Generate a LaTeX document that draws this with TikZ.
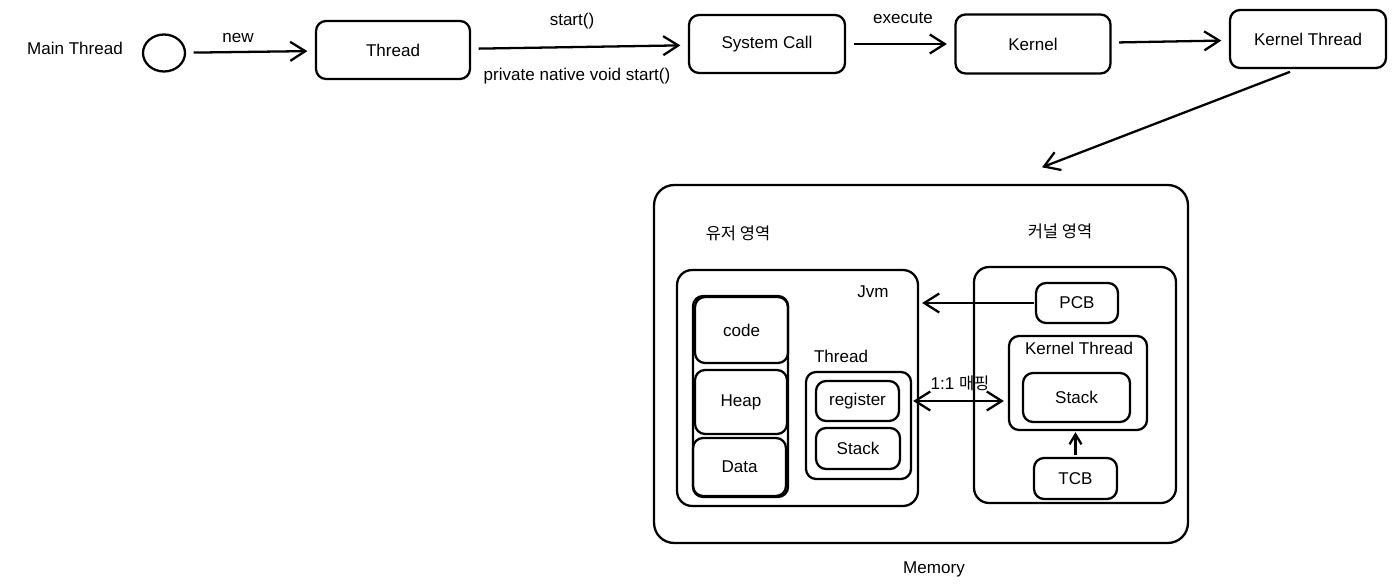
\documentclass[tikz,border=0pt]{standalone}
\usepackage{fontspec}
\setmainfont{Liberation Sans}
\newfontfamily\kor{Noto Sans CJK KR}
\usetikzlibrary{arrows.meta,shapes.geometric}

\begin{document}
\begin{tikzpicture}[x=0.02cm, y=-0.02cm, line width=1.3pt,
  every node/.style={font=\fontsize{9.7}{11.6}\selectfont},
  box/.style={draw, rounded corners=0.2cm, inner sep=0pt},
  lbl/.style={inner sep=1pt},
  arr/.style={-{Straight Barb[length=0.3cm,width=0.38cm]}, shorten >=0.15cm, shorten <=0.15cm}]
  \useasboundingbox (0,0) rectangle (1396,587);

  % top row
  \node[lbl] (main) at (75, 48) {Main Thread};
  \node[draw, ellipse, minimum width=0.84cm, minimum height=0.74cm, inner sep=0pt] (start) at (164, 53) {};
  \node[box, minimum width=3.08cm, minimum height=1.16cm] (thread) at (393, 50) {Thread};
  \node[box, minimum width=3.12cm, minimum height=1.16cm] (syscall) at (767, 44) {System Call};
  \node[box, minimum width=3.1cm, minimum height=1.18cm] (kernel) at (1033, 44) {Kernel};
  \node[box, minimum width=3.12cm, minimum height=1.16cm] (kthreadtop) at (1308, 39) {Kernel Thread};
  \node[lbl] (new) at (238, 38) {new};
  \node[lbl] (startcall) at (572, 21) {start()};
  \node[lbl] (native) at (577, 76) {private native void start()};
  \node[lbl] (execute) at (903, 18) {execute};
  \draw[arr] (start) -- (thread);
  \draw[arr] (thread) -- (syscall);
  \draw[arr] (syscall) -- (kernel);
  \draw[arr] (kernel) -- (kthreadtop);
  \coordinate (memtop) at (1035, 170);
  \draw[arr] ([xshift=-0.22cm]kthreadtop.south) -- (memtop);

  % memory
  \node[box, rounded corners=0.4cm, minimum width=10.68cm, minimum height=7.16cm] (memory) at (921, 364) {};
  \node[lbl] (memlabel) at (934, 569) {Memory};
  \node[lbl] (user) at (738, 233) {\kor\fontsize{9.4}{11}\selectfont 유저 영역};
  \node[lbl] (kern) at (1060, 231) {\kor\fontsize{9.4}{11}\selectfont 커널 영역};

  % user area
  \node[box, rounded corners=0.3cm, minimum width=4.82cm, minimum height=4.72cm] (jvm) at (797.5, 388) {};
  \node[lbl] (jvmlabel) at (873, 292) {Jvm};
  \node[box, minimum width=1.9cm, minimum height=4.02cm] (column) at (740.5, 396.5) {};
  \node[box, minimum width=1.86cm, minimum height=1.32cm] (code) at (741.5, 330) {code};
  \node[box, minimum width=1.84cm, minimum height=1.28cm] (heap) at (741, 402) {Heap};
  \node[box, minimum width=1.86cm, minimum height=1.16cm] (data) at (739.5, 467) {Data};
  \node[lbl] (threadlabel) at (841, 356) {Thread};
  \node[box, minimum width=2.1cm, minimum height=2.14cm] (uthread) at (858.5, 425.5) {};
  \node[box, minimum width=1.66cm, minimum height=0.8cm] (register) at (857.5, 401) {register};
  \node[box, minimum width=1.68cm, minimum height=0.82cm] (ustack) at (858, 448.5) {Stack};

  % kernel area
  \node[box, rounded corners=0.3cm, minimum width=4.04cm, minimum height=4.72cm] (karea) at (1075, 385) {};
  \node[box, minimum width=1.64cm, minimum height=0.8cm] (pcb) at (1077, 303) {PCB};
  \node[box, minimum width=2.76cm, minimum height=1.88cm] (kthread) at (1078, 383) {};
  \node[lbl] (kthreadlabel) at (1079, 348) {Kernel Thread};
  \node[box, minimum width=2.14cm, minimum height=0.98cm] (kstack) at (1076.5, 397.5) {Stack};
  \node[box, minimum width=1.66cm, minimum height=0.82cm] (tcb) at (1075.5, 478.5) {TCB};
  \node[lbl] (mapping) at (960, 383) {1:1 {\kor\fontsize{9.4}{11}\selectfont 매핑}};
  \draw[arr, shorten >=0.06cm, shorten <=0.02cm] (pcb.west) -- (pcb.west -| jvm.east);
  \draw[{Straight Barb[length=0.3cm,width=0.38cm]}-{Straight Barb[length=0.3cm,width=0.38cm]}, shorten >=0.08cm, shorten <=0.02cm] (register.east -| uthread.east) -- (register.east -| kthread.west);
  \draw[-{Straight Barb[length=0.2cm,width=0.24cm]}, shorten >=0.02cm, shorten <=0.04cm] (tcb) -- (tcb |- kthread.south);
\end{tikzpicture}
\end{document}
